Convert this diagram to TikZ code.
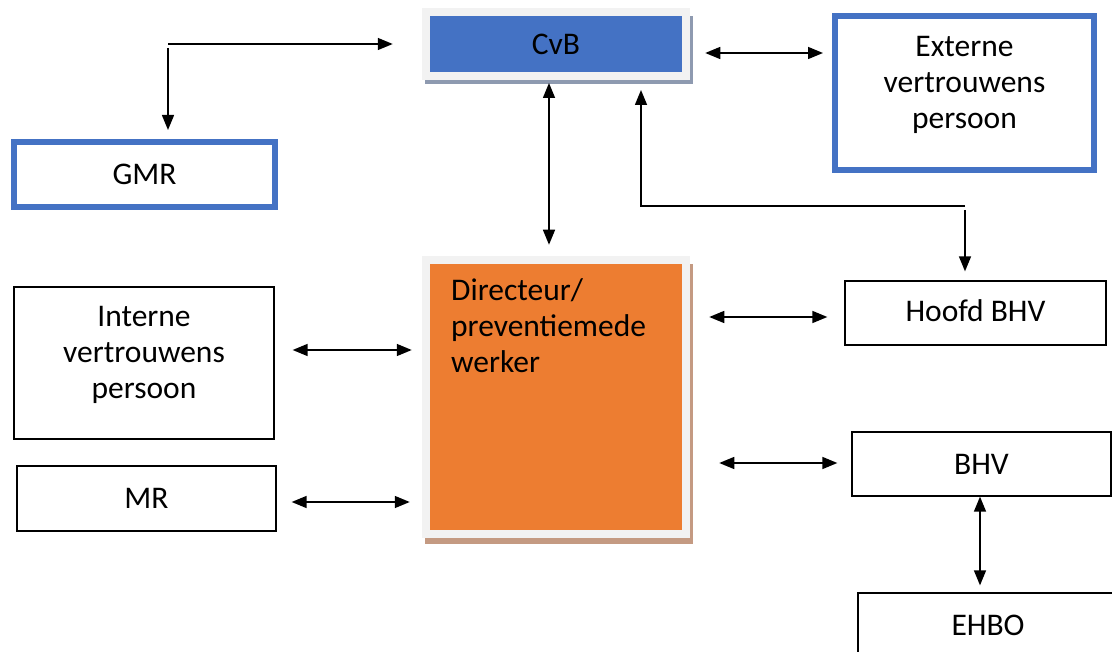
\documentclass[tikz,border=0pt]{standalone}
\usepackage{fontspec}
\setmainfont{Carlito}
\usetikzlibrary{arrows.meta,calc,backgrounds}

\definecolor{accentblue}{HTML}{4472C4}
\definecolor{accentorange}{HTML}{ED7D31}
\definecolor{framegray}{HTML}{F2F2F2}
\definecolor{cvbshadow}{HTML}{8E9AB0}
\definecolor{dirshadow}{HTML}{C49A82}

\newcommand{\boxfont}{\fontsize{31.5}{36}\selectfont}

\tikzset{
  plainbox/.style={draw=black, line width=1.3pt, fill=white, inner sep=0pt,
    align=center, font=\boxfont},
  bluebox/.style={plainbox, draw=accentblue, line width=6pt},
  framedbox/.style={draw=framegray, line width=8pt, inner sep=0pt,
    align=center, font=\boxfont},
  boxtext/.style={inner sep=0pt, align=center, font=\boxfont},
  tip/.tip={Triangle[length=15pt,width=12pt]},
  link/.style={line width=1.5pt, -tip},
  biarrow/.style={line width=1.5pt, tip-tip},
}

\begin{document}
\begin{tikzpicture}[x=1pt,y=-1pt]
\useasboundingbox (0,0) rectangle (1112,652);

% boxes
\node[framedbox, fill=accentblue, minimum width=260.5pt, minimum height=64pt]
  (cvb) at (556,44) {CvB};
\node[framedbox, fill=accentorange, minimum width=260.5pt, minimum height=274.5pt]
  (dir) at (556,397) {};
\node[boxtext, align=left, anchor=north west]
  (dirtext) at (451,278) {Directeur/\\preventiemede\\werker};

\node[bluebox, minimum width=259pt, minimum height=154pt] (ext) at (964.5,93) {};
\node[boxtext] (exttext) at ($(ext.center)+(0,-8)$) {Externe\\vertrouwens\\persoon};
\node[bluebox, minimum width=261pt, minimum height=65pt]
  (gmr) at (144.5,174.5) {GMR};

\node[plainbox, minimum width=260pt, minimum height=152pt] (int) at (144,363) {};
\node[boxtext] (inttext) at ($(int.center)+(0,-8)$) {Interne\\vertrouwens\\persoon};
\node[plainbox, minimum width=259pt, minimum height=65pt]
  (mr) at (146.5,498.5) {MR};
\node[plainbox, minimum width=261pt, minimum height=64pt] (hbhv) at (975.5,313) {};
\node[boxtext] (hbhvtext) at ($(hbhv.center)+(0,-2)$) {Hoofd BHV};
\node[plainbox, minimum width=259pt, minimum height=64pt]
  (bhv) at (981.5,464) {BHV};
\node[plainbox, minimum width=260pt, minimum height=65pt]
  (ehbo) at (988,625.5) {EHBO};

% drop shadows behind the two framed boxes
\begin{scope}[on background layer]
  \fill[cvbshadow] ($(cvb.south west)+(3,4)$) rectangle ($(cvb.north east)+(3,8)$);
  \fill[dirshadow] ($(dir.south west)+(3,5.5)$) rectangle ($(dir.north east)+(3,8)$);
\end{scope}

% connectors
\coordinate (split) at (168,44);
\draw[link, shorten >=29pt] (split) -- (cvb.west |- split);
\draw[link, shorten >=9pt] (168,48) -- (gmr.north -| split);

\draw[biarrow, shorten <=15pt, shorten >=9pt] (cvb.east |- 0,53) -- (ext.west |- 0,53);
\draw[biarrow, shorten <=3pt, shorten >=11pt] (cvb.south -| 549,0) -- (dir.north -| 549,0);

\coordinate (bend) at (965,206);
\draw[link, shorten >=10pt] (bend) -| (cvb.south -| 641,0);
\draw[link, shorten >=9pt] (bend |- 0,210) -- (hbhv.north -| bend);

\draw[biarrow, shorten <=18pt, shorten >=10pt] (int.east |- 0,350) -- (dir.west |- 0,350);
\draw[biarrow, shorten <=15pt, shorten >=12pt] (mr.east |- 0,502) -- (dir.west |- 0,502);
\draw[biarrow, shorten <=19pt, shorten >=17pt] (dir.east |- 0,317) -- (hbhv.west |- 0,317);
\draw[biarrow, shorten <=29pt, shorten >=14pt] (dir.east |- 0,463) -- (bhv.west |- 0,463);
\draw[biarrow, shorten <=0pt, shorten >=7pt] (bhv.south -| 980,0) -- (ehbo.north -| 980,0);
\end{tikzpicture}
\end{document}
